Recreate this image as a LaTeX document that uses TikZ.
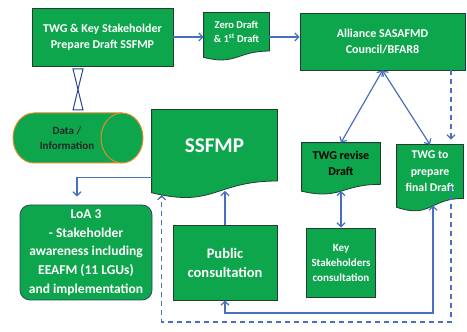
\documentclass[tikz,border=0pt]{standalone}
\usepackage{fontspec}
\setmainfont{Carlito}
\usetikzlibrary{positioning,calc,arrows.meta,backgrounds}

\definecolor{boxgreen}{RGB}{14,166,76}
\definecolor{boxline}{RGB}{36,62,46}
\definecolor{linkblue}{RGB}{72,112,190}
\definecolor{dataline}{RGB}{226,138,44}
\definecolor{loaline}{RGB}{44,72,96}
\definecolor{hgline}{RGB}{40,70,140}

% document shape with wavy bottom, drawn behind a named node
\newcommand{\docfill}[1]{%
  \filldraw[docbg] (#1.north west) -- (#1.north east) -- (#1.south east)
    .. controls (#1.south) and ($(#1.south)!-0.3815!(#1.north)$)
    .. ($(#1.south west)!-0.1646!(#1.north west)$) -- cycle;}

\begin{document}
\begin{tikzpicture}[x=1pt, y=1pt,
    fs/.style 2 args={font=\bfseries\fontsize{#1}{#2}\selectfont},
    box/.style={draw=boxline, line width=0.8pt, fill=boxgreen, text=white, align=center, inner sep=1pt},
    doc/.style={box, draw=none, fill=none},
    docbg/.style={draw=boxline, line width=0.8pt, fill=boxgreen},
    link/.style={draw=linkblue, line width=1.2pt},
    dlink/.style={link, dash pattern=on 5pt off 4pt},
    >={Straight Barb[length=4pt, width=8pt]}]

    \useasboundingbox (0,0) rectangle (467,332);

    \node[box, fs={12}{16}, minimum width=141, minimum height=58] (twg) at (102.5,295) {TWG \& Key Stakeholder\\Prepare Draft SSFMP};
    \node[doc, fs={10.5}{14.5}, minimum width=65, minimum height=37.7] (zero) at (236.5,300.2) {Zero Draft\\\& 1\textsuperscript{st} Draft};
    \node[box, fs={12}{16}, minimum width=165, minimum height=57] (alliance) at (382.5,290.5) {Alliance SASAFMD\\Council/BFAR8};
    \node[doc, fs={21}{25}, minimum width=125, minimum height=70.6] (ssfmp) at (214.5,186.7) {SSFMP};
    \node[fs={11}{15}, text=black!85, align=center] (data) at (67,194) {Data /\\Information};
    \node[box, draw=loaline, rounded corners=10pt, fs={13.5}{18.7}, minimum width=132, minimum height=95] (loa) at (86,79.5) {LoA 3\\- Stakeholder\\awareness including\\EEAFM (11 LGUs)\\and implementation};
    \node[box, fs={14.5}{19}, minimum width=104, minimum height=75] (pub) at (225,69.5) {Public\\consultation};
    \node[doc, fs={12}{16}, text=black, minimum width=78, minimum height=40.9] (rev) at (341,168.5) {TWG revise\\Draft};
    \node[box, fs={11}{15}, minimum width=69, minimum height=69] (key) at (341,69.5) {Key\\Stakeholders\\consultation};
    \node[doc, fs={11.8}{16.5}, minimum width=66, minimum height=53] (fin) at (430,160.5) {TWG to\\prepare\\final Draft};

    \begin{scope}[on background layer]
        \foreach \d in {zero,ssfmp,rev,fin} {\docfill{\d}}
        % data cylinder
        \filldraw[draw=dataline, fill=boxgreen, line width=1pt] (34,219) -- (122,219)
            arc[start angle=90, end angle=-90, x radius=21, y radius=25] -- (34,169)
            arc[start angle=270, end angle=90, x radius=21, y radius=25] -- cycle;
        \draw[dataline, line width=1pt] (122,219) arc[start angle=90, end angle=270, x radius=21, y radius=25];
    \end{scope}

    % collate mark
    \filldraw[draw=hgline, fill=white, line width=1pt] (73,263) -- (83,263) -- (73,222) -- (83,222) -- cycle;

    \coordinate (dashbase) at (451,10);
    \coordinate (dashtop) at (dashbase |- alliance.south);
    \coordinate (solidbase) at (433,19);

    \draw[link,->] (twg.east) -- (twg.east -| zero.west);
    \draw[link,->] (zero.east |- twg.east) -- (twg.east -| alliance.west);
    \draw[link,<->] (alliance.south) -- (rev.north);
    \draw[link,<->] (alliance.south) -- (fin.north);
    \draw[link,<->] ($(rev.south)+(0,-6.5)$) -- (key.north);
    \draw[link,->] ($(ssfmp.west)+(0,-32)$) -| ($(loa.north)+(-9,8)$);
    \draw[link,->] (pub.north) -- ($(pub.north |- ssfmp.south)+(0,-10)$);
    \draw[link,<->] (pub.south) |- (solidbase) -- ($(fin.south -| solidbase)+(0,-7)$);
    \draw[dlink,->] (dashtop) -- ($(fin.north -| dashtop)+(0,5)$);
    \draw[dlink,->] ($(fin.south -| dashbase)+(0,12)$) -- (dashbase) -| ($(ssfmp.south west)+(10,-14)$);
\end{tikzpicture}
\end{document}
